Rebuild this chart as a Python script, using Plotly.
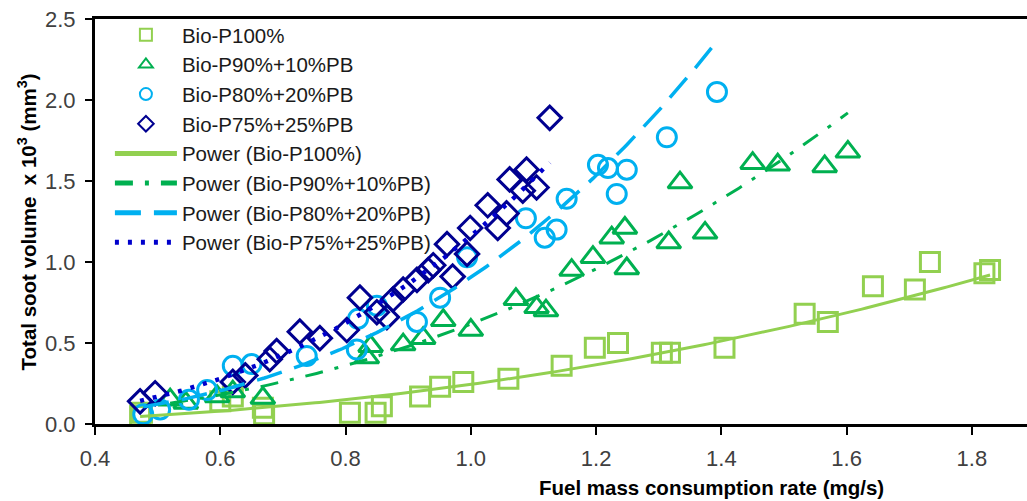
import numpy as np
import plotly.graph_objects as go

# ---- data ----
p100_x = [0.472, 0.475, 0.600, 0.620, 0.668, 0.670, 0.807, 0.848, 0.858, 0.919, 0.951, 0.988,
          1.060, 1.145, 1.198, 1.235, 1.305, 1.318, 1.405, 1.533, 1.570, 1.642, 1.709, 1.733,
          1.820, 1.829]
p100_y = [0.05, 0.07, 0.14, 0.17, 0.10, 0.06, 0.07, 0.07, 0.11, 0.17, 0.23, 0.26,
          0.28, 0.36, 0.47, 0.50, 0.44, 0.44, 0.47, 0.68, 0.63, 0.85, 0.83, 1.00,
          0.93, 0.95]

p90_x = [0.520, 0.545, 0.595, 0.620, 0.668, 0.834, 0.840, 0.892, 0.924, 0.956, 1.000, 1.072,
         1.105, 1.120, 1.161, 1.195, 1.225, 1.246, 1.249, 1.316, 1.334, 1.374, 1.450, 1.490,
         1.565, 1.602]
p90_y = [0.15, 0.13, 0.17, 0.20, 0.16, 0.41, 0.48, 0.49, 0.53, 0.64, 0.58, 0.77,
         0.72, 0.70, 0.95, 1.03, 1.15, 1.21, 0.96, 1.12, 1.49, 1.18, 1.61, 1.60,
         1.59, 1.68]

p80_x = [0.477, 0.504, 0.550, 0.579, 0.620, 0.650, 0.738, 0.818, 0.820, 0.850, 0.914, 0.951,
         0.994, 1.088, 1.118, 1.137, 1.153, 1.203, 1.219, 1.233, 1.249, 1.313, 1.393]
p80_y = [0.06, 0.09, 0.15, 0.21, 0.36, 0.37, 0.42, 0.46, 0.65, 0.73, 0.63, 0.78,
         1.03, 1.27, 1.15, 1.20, 1.39, 1.60, 1.58, 1.42, 1.57, 1.77, 2.05]

p75_x = [0.472, 0.496, 0.620, 0.640, 0.679, 0.690, 0.727, 0.759, 0.802, 0.823, 0.850, 0.866,
         0.876, 0.892, 0.914, 0.932, 0.940, 0.962, 0.971, 0.994, 0.999, 1.027, 1.043, 1.057,
         1.062, 1.083, 1.089, 1.105, 1.126]
p75_y = [0.14, 0.19, 0.26, 0.30, 0.40, 0.45, 0.57, 0.53, 0.58, 0.78, 0.69, 0.66,
         0.77, 0.83, 0.89, 0.95, 0.98, 1.11, 0.91, 1.05, 1.21, 1.35, 1.21, 1.30,
         1.51, 1.44, 1.57, 1.46, 1.89]

names = ["Bio-P100%", "Bio-P90%+10%PB", "Bio-P80%+20%PB", "Bio-P75%+25%PB"]
x_tick_vals = [0.4, 0.6, 0.8, 1.0, 1.2, 1.4, 1.6, 1.8]
y_tick_vals = [0.0, 0.5, 1.0, 1.5, 2.0, 2.5]

series = [
    (p100_x, p100_y, "square-open", "#92D050", "solid"),
    (p90_x, p90_y, "triangle-up-open", "#00B050", "18px,12px,4px,12px"),
    (p80_x, p80_y, "circle-open", "#00B0F0", "26px,13px"),
    (p75_x, p75_y, "diamond-open", "#000090", "4px,9px"),
]
line_colors = ["#92D050", "#00B050", "#00B0F0", "#0000CC"]
line_widths = [3, 3, 3.5, 4.5]

fig = go.Figure()
marker_sizes = [19, 21, 19, 18]
for (xs, ys, sym, col, dash), name, ms in zip(series, names, marker_sizes):
    fig.add_trace(go.Scatter(
        x=xs, y=ys, mode="markers", name=name,
        marker=dict(symbol=sym, size=ms, color=col, line=dict(width=3, color=col)),
    ))

def power_fit(xs, ys):
    xs = np.asarray(xs); ys = np.asarray(ys)
    b, ln_a = np.polyfit(np.log(xs), np.log(ys), 1)
    xx = np.linspace(xs.min(), xs.max(), 200)
    return xx, np.exp(ln_a) * xx ** b

for (xs, ys, sym, col, dash), name, lc, lw in zip(series, names, line_colors, line_widths):
    xx, yy = power_fit(xs, ys)
    fig.add_trace(go.Scatter(
        x=xx, y=yy, mode="lines", name=f"Power ({name})",
        line=dict(color=lc, width=lw, dash=dash),
    ))

FONT = "Liberation Sans, Arial, sans-serif"
tick_font = dict(family=FONT, size=22, color="#404040")

fig.update_layout(
    width=1027, height=501,
    margin=dict(l=95, r=0, t=19, b=77),
    plot_bgcolor="white", paper_bgcolor="white",
    showlegend=True,
    legend=dict(
        x=0.016, y=1.01, xanchor="left", yanchor="top",
        font=dict(family=FONT, size=20.5, color="#1a1a1a"),
        bgcolor="rgba(255,255,255,0)", itemsizing="constant", tracegroupgap=0,
        itemwidth=62,
    ),
    xaxis=dict(
        range=[0.4, 1.888], tickvals=x_tick_vals, ticktext=[f"{v:.1f}" for v in x_tick_vals],
        showgrid=False, zeroline=False, showline=True, linecolor="black", linewidth=3,
        mirror=True, ticks="outside", ticklen=8, tickwidth=2, tickcolor="black",
        tickfont=tick_font, ticklabelstandoff=5,
    ),
    yaxis=dict(
        range=[0, 2.5], tickvals=y_tick_vals, ticktext=[f"{v:.1f}" for v in y_tick_vals],
        showgrid=False, zeroline=False, showline=True, linecolor="black", linewidth=3,
        ticks="outside", ticklen=7, tickwidth=2, tickcolor="black",
        tickfont=tick_font, ticklabelstandoff=5,
    ),
    annotations=[
        dict(text="Fuel mass consumption rate (mg/s)", xref="paper", yref="paper",
             x=(711 - 95) / 932, y=-0.158, xanchor="center", yanchor="middle", showarrow=False,
             font=dict(family=FONT, size=20.5, color="black", weight="bold")),
        dict(text="Total soot volume  x 10<sup>3</sup> (mm<sup>3</sup>)", xref="paper", yref="paper",
             x=-0.073, y=0.5, xanchor="center", yanchor="middle", showarrow=False, textangle=-90,
             font=dict(family=FONT, size=20.5, color="black", weight="bold")),
    ],
)

fig.write_html("out.html")
